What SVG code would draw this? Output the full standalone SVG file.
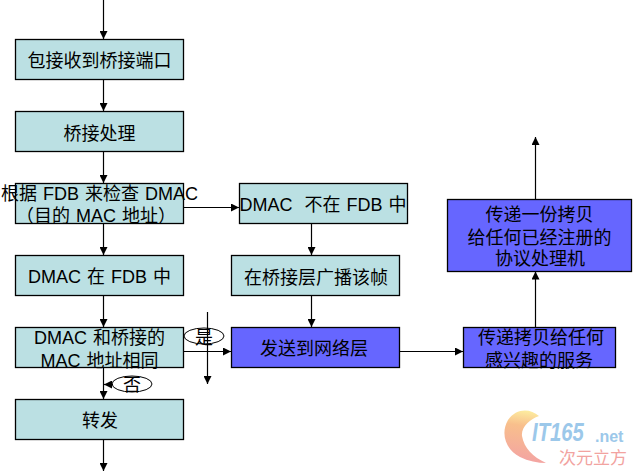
<svg xmlns="http://www.w3.org/2000/svg" width="633" height="473" viewBox="0 0 633 473">
<style>
text{font-family:"Liberation Sans","Noto Sans CJK SC",sans-serif;font-size:18px;fill:#000;text-anchor:middle;word-spacing:1px}
.t{fill:#bbe0e3;stroke:#000;stroke-width:1.3}
.b{fill:#6666ff;stroke:#000;stroke-width:1.3}
.c{fill:none;stroke:#000;stroke-width:1.2}
.a{fill:#000}
.e{fill:#fff;stroke:#000;stroke-width:1}
</style>
<defs>
<marker id="ah" markerUnits="userSpaceOnUse" markerWidth="9" markerHeight="8" refX="8" refY="4" orient="auto"><path d="M0 0L8 4L0 8Z" class="a"/></marker>
<linearGradient id="sw" x1="0.6" y1="0" x2="0.5" y2="1"><stop offset="0" stop-color="#fdeea0"/><stop offset="0.3" stop-color="#f8bf8c"/><stop offset="1" stop-color="#f3a3a3"/></linearGradient>
</defs>
<rect width="633" height="473" fill="#fff"/>
<g id="yes"><ellipse class="e" cx="204" cy="336" rx="20" ry="8"/><text x="204" y="344">是</text></g>
<g id="no"><ellipse class="e" cx="132" cy="384" rx="20" ry="8"/><text x="132" y="391">否</text></g>
<g id="connectors">
<path class="c" marker-end="url(#ah)" d="M103.500 0V39"/>
<path class="c" marker-end="url(#ah)" d="M103.500 79.500V111"/>
<path class="c" marker-end="url(#ah)" d="M103.500 151V183"/>
<path class="c" marker-end="url(#ah)" d="M103.500 223.500V255"/>
<path class="c" marker-end="url(#ah)" d="M103.500 295.500V327"/>
<path class="c" marker-end="url(#ah)" d="M103.500 367.500V399"/>
<path class="c" marker-end="url(#ah)" d="M103.500 439.500V471"/>
<path class="c" marker-end="url(#ah)" d="M183.500 207.500H239"/>
<path class="c" marker-end="url(#ah)" d="M311.500 223.500V255"/>
<path class="c" marker-end="url(#ah)" d="M311.500 295.500V327"/>
<path class="c" marker-end="url(#ah)" d="M183.500 351.500H231"/>
<path class="c" marker-end="url(#ah)" d="M399.500 351.500H463"/>
<path class="c" marker-end="url(#ah)" d="M535.500 327.500V271.500"/>
<path class="c" marker-end="url(#ah)" d="M535.500 199.500V137"/>
<path class="c" marker-end="url(#ah)" d="M207.500 312V384"/>
<path class="c" marker-end="url(#ah)" d="M113 384.500H104"/>
</g>
<g id="n1"><rect class="t" x="15.500" y="39.500" width="168" height="40"/><text x="99.500" y="67">包接收到桥接端口</text></g>
<g id="n2"><rect class="t" x="15.500" y="111.500" width="168" height="40"/><text x="99.500" y="140">桥接处理</text></g>
<g id="n3"><rect class="t" x="15.500" y="183.500" width="168" height="40"/><text x="99.500" y="200">根据 FDB 来检查 DMAC</text><text x="96" y="222">（目的 MAC 地址）</text></g>
<g id="n4"><rect class="t" x="15.500" y="255.500" width="168" height="40"/><text x="99.500" y="283">DMAC 在 FDB 中</text></g>
<g id="n5"><rect class="t" x="15.500" y="327.500" width="168" height="40"/><text x="99.500" y="344">DMAC 和桥接的</text><text x="99.500" y="367">MAC 地址相同</text></g>
<g id="n6"><rect class="t" x="15.500" y="399.500" width="168" height="40"/><text x="100" y="427">转发</text></g>
<g id="n7"><rect class="t" x="239.500" y="183.500" width="168" height="40"/><text x="323" y="211" xml:space="preserve">DMAC  不在 FDB 中</text></g>
<g id="n8"><rect class="t" x="231.500" y="255.500" width="168" height="40"/><text x="316" y="284">在桥接层广播该帧</text></g>
<g id="n9"><rect class="b" x="231.500" y="327.500" width="168" height="40"/><text x="314" y="355">发送到网络层</text></g>
<g id="n10"><rect class="b" x="463.500" y="327.500" width="152" height="40"/><text x="541" y="344">传递拷贝给任何</text><text x="539" y="367">感兴趣的服务</text></g>
<g id="n11"><rect class="b" x="447.500" y="199.500" width="184" height="72"/><text x="539.500" y="221">传递一份拷贝</text><text x="539.500" y="244">给任何已经注册的</text><text x="540" y="265">协议处理机</text></g>
<g id="watermark">
<path d="M539 416C530 408 516 408 508 420C500 434 506 450 520 457C528 461 538 463 546 463C533 457 524 448 522 436C521 427 530 419 539 416Z" fill="url(#sw)"/>
<text transform="translate(532 441) scale(.78 1)" style="font-size:26px;font-style:italic;font-weight:bold;fill:#9cc8ea;text-anchor:start">IT165</text>
<text x="595" y="442" style="font-size:16px;font-weight:bold;fill:#9cc8ea;text-anchor:start">.net</text>
<text x="593" y="464" style="font-size:17px;fill:#f2a3a0">次元立方</text>
</g>
</svg>
